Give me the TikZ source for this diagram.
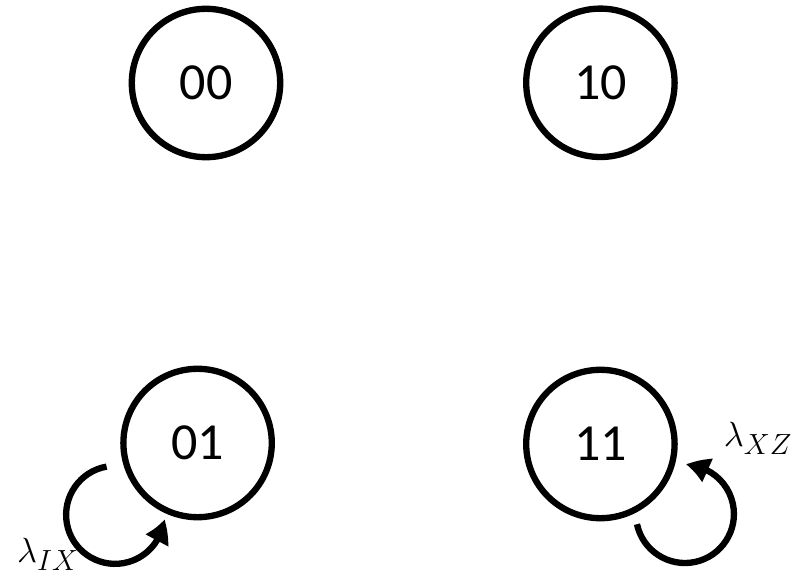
\documentclass[tikz,border=0pt]{standalone}
\usepackage{fontspec}
\setmainfont{Carlito}
\usepackage{tikz}
\usetikzlibrary{arrows.meta,bending}
\tikzset{%
  every state/.style={
    circle,
    draw,
    line width=4.5pt,
    minimum size=3.71cm,
    inner sep=0pt,
    font=\fontsize{37}{40}\selectfont
  },
  self loop/.style={
    line width=4.5pt,
    -{Triangle[length=0.57cm,width=0.6cm,bend]}
  },
  rate/.style={
    font=\fontsize{29}{32}\selectfont
  },
}

\begin{document}
\begin{tikzpicture}[x=1cm, y=1cm]
\useasboundingbox (0,0) rectangle (19.875,14.45);

\foreach \s/\x/\y in {00/5.15/12.375, 10/15.01/12.38, 01/4.94/3.375, 11/15.01/3.35}
  \node [every state] (s\s) at (\x,\y) {\s};

\draw [self loop] (s01) ++(-2.275,-0.59)
  arc [start angle=100, end angle=355, radius=1.225];
\draw [self loop] (s11) ++(0.915,-2.005)
  arc [start angle=192, end angle=449, radius=1.225];

\node [rate] (rIX) at (1.2,0.6) {$\lambda_{IX}$};
\node [rate] (rXZ) at (18.95,3.5) {$\lambda_{XZ}$};

\end{tikzpicture}
\end{document}
